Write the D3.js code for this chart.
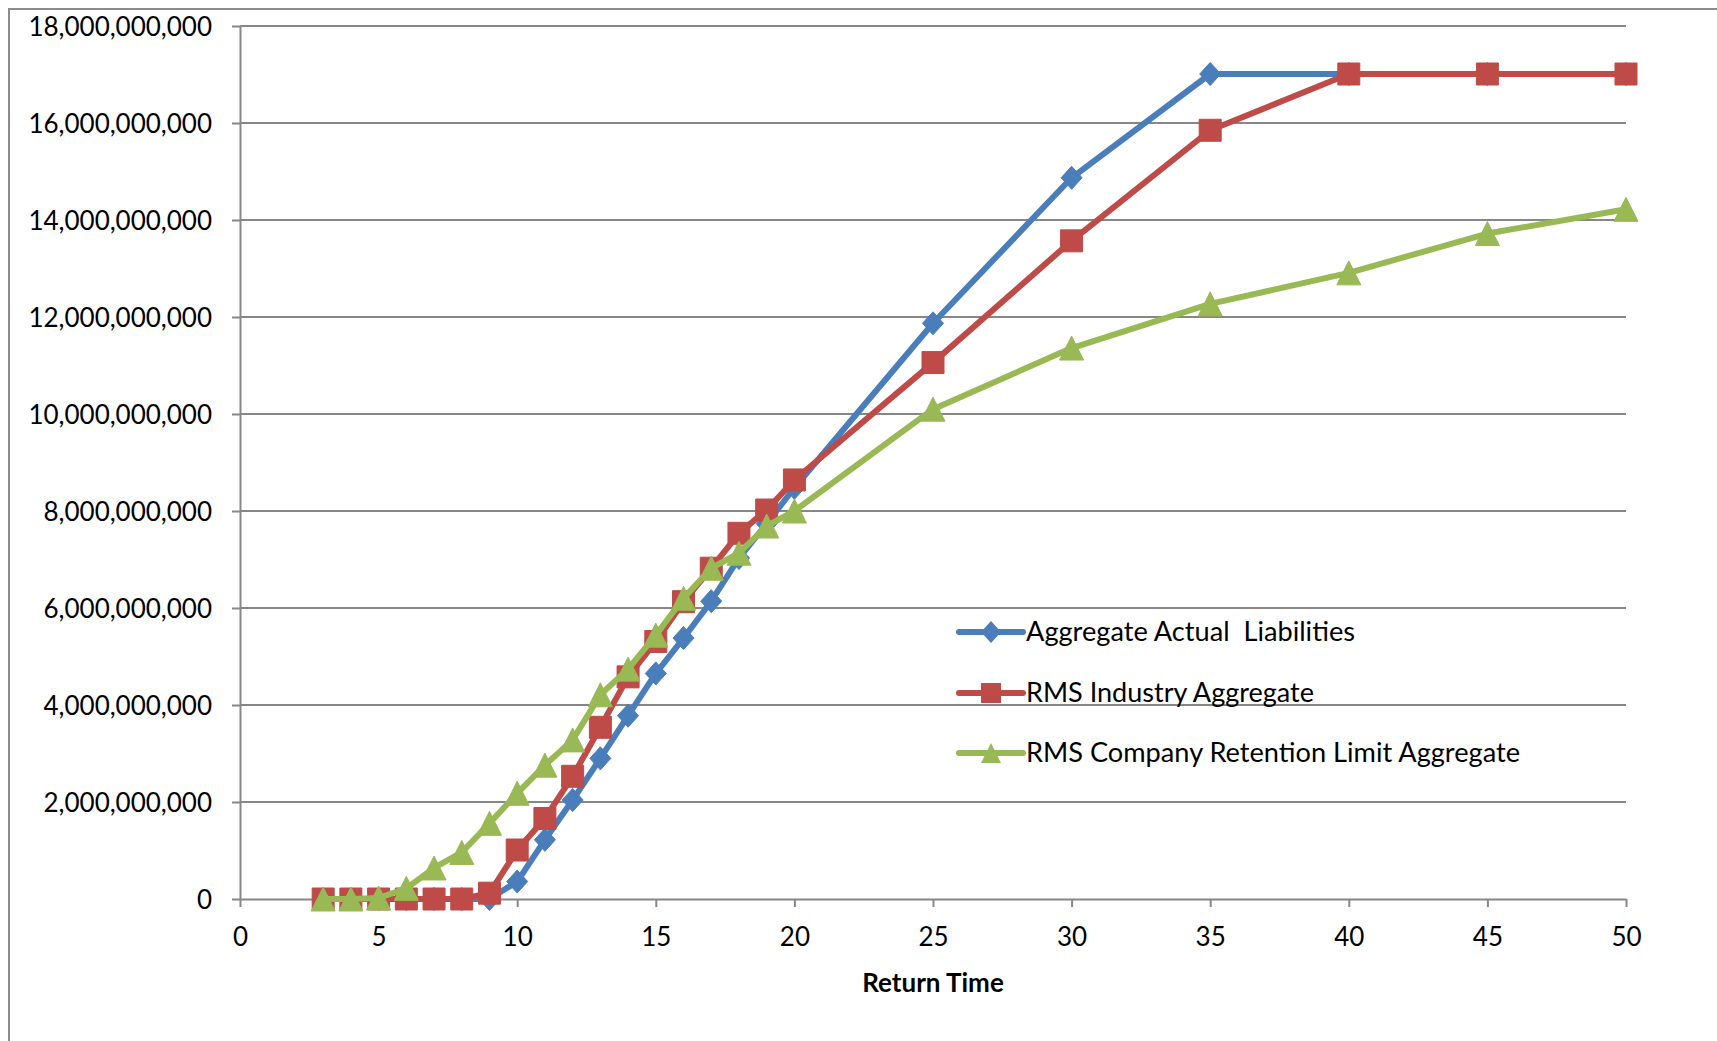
<!DOCTYPE html>
<html>
<head>
<meta charset="utf-8">
<script src="https://cdn.jsdelivr.net/npm/d3@7"></script>
<style>
  html, body { margin: 0; padding: 0; background: #ffffff; }
  svg { display: block; }
  text { font-family: Lato, "Open Sans", sans-serif; fill: #000; }
</style>
</head>
<body>
<svg id="chart" width="1717" height="1041"></svg>
<script>
// Return periods (years) on the x axis
const returnTime = [3, 4, 5, 6, 7, 8, 9, 10, 11, 12, 13, 14, 15, 16, 17, 18, 19, 20, 25, 30, 35, 40, 45, 50];

// Aggregate losses, in billions
const actualLiabilities = [0, 0, 0, 0, 0, 0, 0, 0.36, 1.22, 2.04, 2.90, 3.78, 4.65, 5.38, 6.14, 7.03, 7.74, 8.48, 11.87, 14.87, 17.01, 17.01, 17.01, 17.01];
const industryAggregate = [0, 0, 0, 0, 0, 0, 0.12, 1.01, 1.66, 2.53, 3.54, 4.58, 5.31, 6.13, 6.82, 7.54, 8.02, 8.64, 11.06, 13.57, 15.85, 17.01, 17.01, 17.01];
const retentionAggregate = [0, 0, 0.02, 0.22, 0.64, 0.96, 1.56, 2.18, 2.76, 3.28, 4.21, 4.74, 5.44, 6.20, 6.82, 7.13, 7.69, 8.00, 10.10, 11.36, 12.27, 12.91, 13.72, 14.22];

const seriesNames = ["Aggregate Actual  Liabilities", "RMS Industry Aggregate", "RMS Company Retention Limit Aggregate"];
const xTicks = [0, 5, 10, 15, 20, 25, 30, 35, 40, 45, 50];
const yTicks = [0, 2e9, 4e9, 6e9, 8e9, 10e9, 12e9, 14e9, 16e9, 18e9];
const xTitle = "Return Time";

const BILLION = 1e9;
const series = [
  { name: seriesNames[0], values: actualLiabilities, color: "#4a7ebb", marker: "diamond" },
  { name: seriesNames[1], values: industryAggregate, color: "#be4b48", marker: "square" },
  { name: seriesNames[2], values: retentionAggregate, color: "#98b954", marker: "triangle" }
];

const svg = d3.select("#chart");
const gridColor = "#878787";

// outer chart-area frame
svg.append("rect")
  .attr("x", 9).attr("y", 9)
  .attr("width", 1800).attr("height", 1100)
  .attr("fill", "none").attr("stroke", "#8c8c8c").attr("stroke-width", 2);

const plot = { left: 240, right: 1626, top: 26, bottom: 899 };

const x = d3.scaleLinear().domain([0, 50]).range([plot.left, plot.right]);
const y = d3.scaleLinear().domain([0, 18e9]).range([plot.bottom, plot.top]);

// horizontal gridlines
svg.append("g")
  .selectAll("line")
  .data(yTicks.filter(d => d > 0))
  .join("line")
  .attr("x1", plot.left).attr("x2", plot.right)
  .attr("y1", d => y(d)).attr("y2", d => y(d))
  .attr("stroke", gridColor).attr("stroke-width", 2);

// y axis
const yAxis = svg.append("g")
  .attr("transform", `translate(${plot.left},0)`)
  .call(d3.axisLeft(y).tickValues(yTicks).tickFormat(d3.format(",")).tickSize(8).tickSizeOuter(0).tickPadding(20));
// x axis
const xAxis = svg.append("g")
  .attr("transform", `translate(0,${plot.bottom})`)
  .call(d3.axisBottom(x).tickValues(xTicks).tickFormat(d3.format("d")).tickSize(8).tickSizeOuter(0).tickPadding(21));

[yAxis, xAxis].forEach(g => {
  g.select(".domain").attr("stroke", gridColor).attr("stroke-width", 2);
  g.selectAll(".tick line").attr("stroke", gridColor).attr("stroke-width", 2);
  g.selectAll(".tick text")
    .style("font-family", "Lato, 'Open Sans', sans-serif")
    .style("font-size", "26px")
    .attr("fill", "#000");
});
yAxis.selectAll(".tick text").attr("dy", "0.36em");

// axis title
svg.append("text")
  .attr("x", (plot.left + plot.right) / 2)
  .attr("y", 992)
  .attr("text-anchor", "middle")
  .style("font-size", "26px")
  .style("font-weight", "bold")
  .text(xTitle);

// marker shapes
function markerPath(type, s) {
  const h = s / 2;
  if (type === "diamond") return `M0,${-h * 1.1}L${h},0L0,${h * 1.1}L${-h},0Z`;
  if (type === "square") return `M${-h},${-h}H${h}V${h}H${-h}Z`;
  return `M0,${-h}L${h},${h}L${-h},${h}Z`;
}
const markerSize = { diamond: 21, square: 22, triangle: 24 };

const line = d3.line()
  .x((d, i) => x(returnTime[i]))
  .y(d => y(d * BILLION))
  .curve(d3.curveLinear);

series.forEach(s => {
  const g = svg.append("g");
  g.append("path")
    .attr("d", line(s.values))
    .attr("fill", "none")
    .attr("stroke", s.color)
    .attr("stroke-width", 6)
    .attr("stroke-linejoin", "round")
    .attr("stroke-linecap", "round");
  g.selectAll("path.mk")
    .data(s.values)
    .join("path")
    .attr("class", "mk")
    .attr("transform", (d, i) => `translate(${x(returnTime[i])},${y(d * BILLION)})`)
    .attr("d", markerPath(s.marker, markerSize[s.marker]))
    .attr("fill", s.color)
    .attr("stroke", s.color)
    .attr("stroke-width", 1);
});

// legend
const legendX = 959, legendY = [632, 693, 753];
const legendWidths = [329, 288, 494];
series.forEach((s, i) => {
  const g = svg.append("g").attr("transform", `translate(${legendX},${legendY[i]})`);
  g.append("line")
    .attr("x1", 0).attr("x2", 64).attr("y1", 0).attr("y2", 0)
    .attr("stroke", s.color).attr("stroke-width", 6).attr("stroke-linecap", "round");
  g.append("path")
    .attr("transform", "translate(32,0)")
    .attr("d", markerPath(s.marker, 20))
    .attr("fill", s.color);
  g.append("text")
    .attr("x", 67)
    .attr("y", 0)
    .attr("dy", "0.36em")
    .attr("textLength", legendWidths[i])
    .attr("lengthAdjust", "spacingAndGlyphs")
    .style("font-size", "26px")
    .style("white-space", "pre")
    .attr("xml:space", "preserve")
    .text(s.name);
});
</script>
</body>
</html>
